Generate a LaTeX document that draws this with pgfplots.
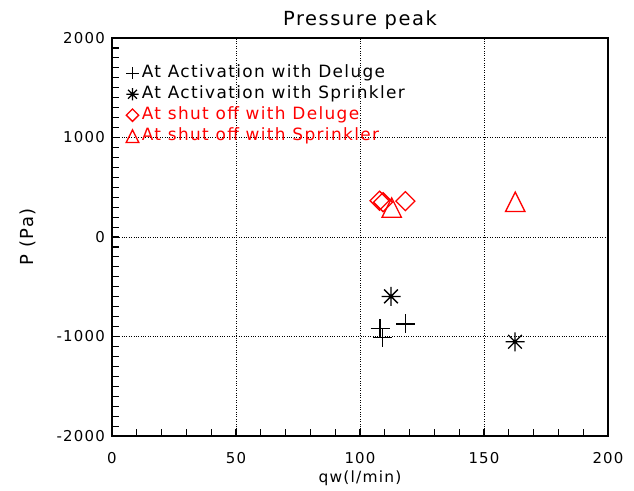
\documentclass[border=0pt]{standalone}
\usepackage{pgfplots}
\pgfplotsset{compat=1.18}
\usepackage{fontspec}
\setmainfont{DejaVu Sans}[LetterSpace=8]

\pgfdeclareplotmark{idlast}{%
  \pgfpathmoveto{\pgfqpoint{-\pgfplotmarksize}{0pt}}\pgfpathlineto{\pgfqpoint{\pgfplotmarksize}{0pt}}%
  \pgfpathmoveto{\pgfqpoint{0pt}{-\pgfplotmarksize}}\pgfpathlineto{\pgfqpoint{0pt}{\pgfplotmarksize}}%
  \pgfpathmoveto{\pgfqpoint{-.72\pgfplotmarksize}{-.72\pgfplotmarksize}}\pgfpathlineto{\pgfqpoint{.72\pgfplotmarksize}{.72\pgfplotmarksize}}%
  \pgfpathmoveto{\pgfqpoint{-.72\pgfplotmarksize}{.72\pgfplotmarksize}}\pgfpathlineto{\pgfqpoint{.72\pgfplotmarksize}{-.72\pgfplotmarksize}}%
  \pgfusepathqstroke}
\pgfdeclareplotmark{idldiam}{%
  \pgfpathmoveto{\pgfqpoint{-\pgfplotmarksize}{0pt}}%
  \pgfpathlineto{\pgfqpoint{0pt}{\pgfplotmarksize}}%
  \pgfpathlineto{\pgfqpoint{\pgfplotmarksize}{0pt}}%
  \pgfpathlineto{\pgfqpoint{0pt}{-\pgfplotmarksize}}%
  \pgfpathclose\pgfusepathqstroke}
\pgfdeclareplotmark{idltri}{%
  \pgfpathmoveto{\pgfqpoint{-\pgfplotmarksize}{-\pgfplotmarksize}}%
  \pgfpathlineto{\pgfqpoint{0pt}{\pgfplotmarksize}}%
  \pgfpathlineto{\pgfqpoint{\pgfplotmarksize}{-\pgfplotmarksize}}%
  \pgfpathclose\pgfusepathqstroke}
\pgfplotsset{idlleg/.style={legend image code/.code={\draw[##1, every mark/.append style={scale=0.65}] plot coordinates {(0.2cm,0bp)};}}}

\begin{document}
\begin{tikzpicture}
\useasboundingbox (-112bp,-55bp) rectangle (522bp,436bp);
\begin{axis}[
  at={(0,0)}, anchor=south west,
  scale only axis, width=496bp, height=398bp,
  xmin=0, xmax=200, ymin=-2000, ymax=2000,
  xtick={0,50,100,150,200}, ytick={-2000,-1000,0,1000,2000},
  minor x tick num=4, minor y tick num=9,
  tick align=inside, tick pos=left,
  major tick length=7bp, minor tick length=7bp,
  every tick/.style={black, line width=1.1bp},
  axis line style={line width=1.5bp},
  grid=major, major grid style={dotted, black, line width=0.8bp},
  /pgf/number format/assume math mode=true,
  /pgf/number format/1000 sep={},
  xticklabel style={font=\fontsize{15}{18}\selectfont, anchor=base, inner sep=0pt, yshift=-27bp},
  yticklabel style={font=\fontsize{15}{18}\selectfont, anchor=east, inner sep=0pt, xshift=-7bp},
  title={Pressure peak},
  title style={font=\fontsize{19.5}{22}\selectfont, at={(axis description cs:0.5,1.0251)}, anchor=base, yshift=-3bp},
  xlabel={qw(l/min)},
  xlabel style={font=\fontsize{15.5}{19}\selectfont, at={(axis description cs:0.5,-0.118)}, anchor=base},
  ylabel={P (Pa)},
  ylabel style={font=\fontsize{18}{21}\selectfont, at={(axis description cs:-0.170,0.5)}, anchor=center},
  legend style={draw=none, fill=none, at={(axis description cs:0,1)}, anchor=north west,
    xshift=14bp, yshift=-27bp, inner sep=0pt, row sep=5bp, column sep=3bp,
    font=\fontsize{17}{20}\selectfont,
    nodes={inner sep=0pt, text height=12bp, text depth=4bp}},
  legend cell align=left,
]
\addplot[only marks, mark=+, mark size=9.5bp, black, line width=1.3bp, idlleg]
  coordinates {(108.1,-920) (109.0,-1013) (118.4,-873)};
\addlegendentry{At Activation with Deluge}
\addplot[only marks, mark=idlast, mark size=9.5bp, black, line width=1.3bp, idlleg]
  coordinates {(112.5,-597) (162.5,-1053)};
\addlegendentry{At Activation with Sprinkler}
\addplot[only marks, mark=idldiam, mark size=9.5bp, red, line width=1.3bp, idlleg]
  coordinates {(107.9,365) (109.3,350) (118.3,360)};
\addlegendentry{\textcolor{red}{At shut off with Deluge}}
\addplot[only marks, mark=idltri, mark size=9.7bp, red, line width=1.3bp, idlleg]
  coordinates {(112.8,295) (162.6,353)};
\addlegendentry{\textcolor{red}{At shut off with Sprinkler}}
\end{axis}
\end{tikzpicture}
\end{document}
